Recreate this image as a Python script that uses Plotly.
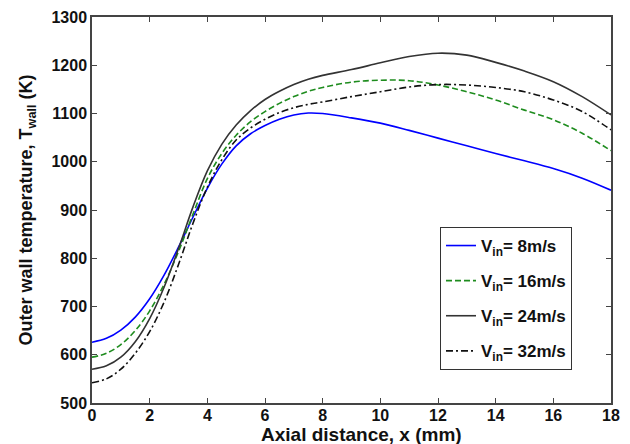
import plotly.graph_objects as go

x = [0, 0.5, 1, 1.5, 2, 2.5, 3, 3.5, 4, 4.5, 5, 5.5, 6, 6.5, 7, 7.5, 8,
     9, 10, 11, 12, 13, 14, 15, 16, 17, 18]

v8 = [626, 634, 651, 678, 716, 765, 823, 885, 945, 995, 1033, 1058, 1075, 1088,
      1097, 1101, 1100, 1091, 1080, 1065, 1049, 1033, 1017, 1002, 986, 966, 941]
v16 = [595, 603, 621, 650, 691, 746, 814, 891, 965, 1017, 1055, 1083, 1104, 1121,
       1135, 1146, 1154, 1165, 1169, 1168, 1159, 1145, 1128, 1107, 1087, 1059, 1023]
v24 = [570, 577, 595, 627, 675, 740, 820, 906, 981, 1036, 1076, 1106, 1129, 1146,
       1160, 1171, 1179, 1191, 1205, 1218, 1225, 1221, 1206, 1188, 1166, 1135, 1097]
v32 = [542, 550, 570, 603, 648, 709, 787, 872, 947, 1004, 1045, 1070, 1088, 1102,
       1112, 1119, 1124, 1135, 1145, 1155, 1160, 1159, 1154, 1145, 1128, 1104, 1066]

names = ["V<sub>in</sub>= 8m/s", "V<sub>in</sub>= 16m/s",
         "V<sub>in</sub>= 24m/s", "V<sub>in</sub>= 32m/s"]
series = [v8, v16, v24, v32]
colors = ["#0000ff", "#1e8c1e", "#333333", "#111111"]
dashes = ["solid", "6px,3px", "solid", "7px,3px,2px,3px"]

x_ticks = list(range(0, 19, 2))
y_ticks = list(range(500, 1301, 100))

FONT = "Liberation Sans, Arial"

fig = go.Figure()
for i, (nm, ys) in enumerate(zip(names, series)):
    fig.add_trace(go.Scatter(
        x=x, y=ys, mode="lines", name=nm, legendgroup=str(i),
        line=dict(color=colors[i], width=1.6, dash=dashes[i], shape="spline", smoothing=1.0),
    ))

axis_common = dict(
    showgrid=False, zeroline=False, showline=True, linecolor="#444444", linewidth=1.5,
    mirror="ticks", ticks="inside", ticklen=5, tickwidth=1, tickcolor="#444444",
    tickfont=dict(family=FONT, size=16, color="#111111", weight="bold"),
    automargin=False,
)

fig.update_layout(
    width=630, height=444,
    margin=dict(l=92, r=19, t=17, b=41),
    paper_bgcolor="white", plot_bgcolor="white",
    font=dict(family=FONT, color="#111111"),
    xaxis=dict(range=[0, 18], tickvals=x_ticks, ticklabelstandoff=-3, **axis_common),
    yaxis=dict(range=[500, 1300], tickvals=y_ticks, **axis_common,
               title=dict(text="Outer wall temperature, T<sub>wall</sub> (K)", standoff=14,
                          font=dict(size=18, weight="bold", family=FONT))),
    legend=dict(x=0.6705, y=0.456, xanchor="left", yanchor="top",
                bordercolor="#333333", borderwidth=1, bgcolor="white",
                font=dict(size=17, weight="bold", family=FONT),
                tracegroupgap=10, itemwidth=30),
    showlegend=True,
    annotations=[dict(text="Axial distance, x (mm)", xref="paper", yref="paper",
                      x=0.52, y=-0.0829, xanchor="center", yanchor="middle",
                      showarrow=False,
                      font=dict(size=19, weight="bold", family=FONT, color="#111111"))],
)

fig.write_html("out.html")
